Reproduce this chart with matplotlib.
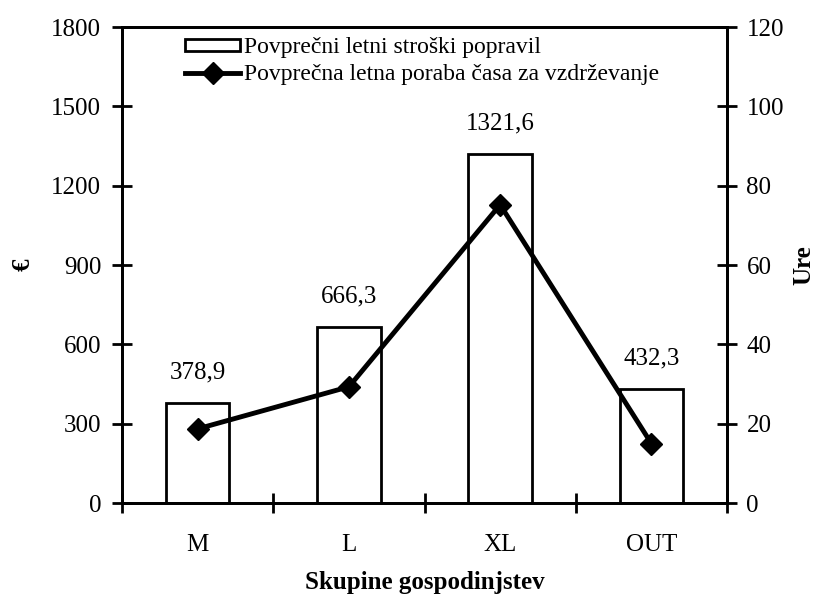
import numpy as np
import matplotlib
matplotlib.use('Agg')
import matplotlib.pyplot as plt

# DATA
groups = ['M', 'L', 'XL', 'OUT']
repair_costs = [378.9, 666.3, 1321.6, 432.3]        # €
maintenance_hours = [18.7, 29.3, 75.2, 15.0]        # Ure
cost_labels = ['378,9', '666,3', '1321,6', '432,3']
cost_ticks = [0, 300, 600, 900, 1200, 1500, 1800]
hour_ticks = [0, 20, 40, 60, 80, 100, 120]

plt.rcParams['font.family'] = ['Liberation Serif', 'DejaVu Serif']

fig = plt.figure(figsize=(8.37, 6.03), dpi=100)
ax = fig.add_axes([0.1458, 0.1658, 0.7228, 0.7894])
ax2 = ax.twinx()

x = np.arange(len(groups))

# bars (left axis)
ax.bar(x, repair_costs, width=0.42, facecolor='white', edgecolor='black',
       linewidth=2, label='Povprečni letni stroški popravil', zorder=2)
for xi, v, txt in zip(x, repair_costs, cost_labels):
    ax.annotate(txt, (xi, v), xytext=(0, 14), textcoords='offset points',
                ha='center', va='bottom', fontsize=18)

# line (right axis)
ax2.plot(x, maintenance_hours, color='black', linewidth=3.5, marker='D',
         markersize=11, label='Povprečna letna poraba časa za vzdrževanje', zorder=3)

ax.set_xlim(-0.5, 3.5)
ax.set_ylim(0, 1800)
ax2.set_ylim(0, 120)
ax.set_yticks(cost_ticks)
ax2.set_yticks(hour_ticks)

# category ticks at boundaries, labels at centres
ax.set_xticks([-0.5, 0.5, 1.5, 2.5, 3.5])
ax.set_xticklabels([])
ax.set_xticks(x, minor=True)
ax.set_xticklabels(groups, minor=True)
ax.tick_params(axis='x', which='minor', length=0, pad=22, labelsize=18)
ax.tick_params(axis='x', which='major', direction='inout', length=14, width=2)
ax.tick_params(axis='y', direction='inout', length=14, width=2, labelsize=18, pad=8)
ax2.tick_params(axis='y', direction='inout', length=14, width=2, labelsize=18, pad=7)

for a in (ax, ax2):
    for s in a.spines.values():
        s.set_linewidth(2)

ax.set_ylabel('€', fontsize=18, fontweight='bold', labelpad=12)
ax2.set_ylabel('Ure', fontsize=18, fontweight='bold', labelpad=6)
ax.set_xlabel('Skupine gospodinjstev', fontsize=18, fontweight='bold', labelpad=11)

h1, l1 = ax.get_legend_handles_labels()
h2, l2 = ax2.get_legend_handles_labels()
leg = ax2.legend(h1 + h2, l1 + l2, loc='upper left', bbox_to_anchor=(0.104, 0.979),
                 frameon=False, fontsize=17, handlelength=2.35, handleheight=0.4,
                 handletextpad=0.15, labelspacing=0.25, borderpad=0, borderaxespad=0)

plt.savefig('out.png', dpi=100)
